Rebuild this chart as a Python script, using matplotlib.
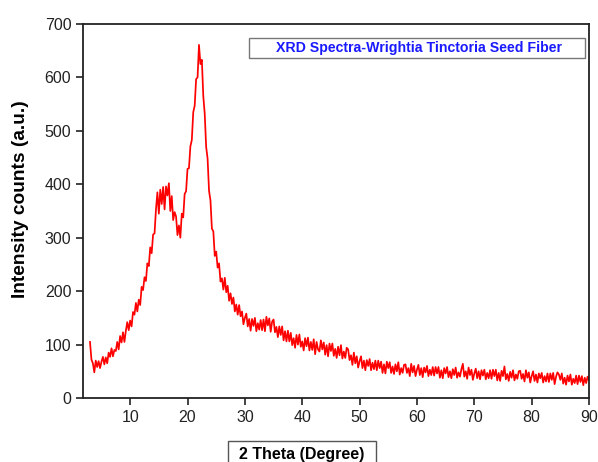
import numpy as np
import matplotlib.pyplot as plt
from matplotlib.patches import Rectangle

plt.rcParams['font.family'] = ['Liberation Sans', 'DejaVu Sans']

# 2 theta grid, 0.25 degree steps from 3 to 90
theta_start, theta_end, theta_step = 3.0, 90.0, 0.25

# intensity counts, one row per 5 degrees
intensity = [
    105, 72, 65, 48, 70, 58, 69, 56, 68, 77, 63, 76, 65, 85, 77, 93, 78, 90, 88, 105,
    91, 116, 104, 123, 105, 126, 142, 127, 145, 134, 161, 156, 178, 162, 184, 174, 208, 202, 226, 219,
    252, 247, 282, 271, 306, 308, 353, 385, 345, 390, 363, 395, 353, 396, 379, 402, 350, 378, 333, 348,
    340, 305, 323, 300, 345, 338, 382, 387, 429, 430, 471, 483, 535, 547, 597, 600, 661, 625, 633, 565,
    532, 470, 448, 388, 370, 317, 312, 266, 274, 244, 252, 218, 224, 203, 225, 198, 210, 182, 196, 176,
    188, 162, 175, 156, 174, 153, 162, 138, 150, 158, 134, 148, 126, 148, 135, 150, 125, 140, 128, 146,
    127, 147, 125, 152, 136, 149, 124, 143, 147, 123, 133, 114, 134, 118, 134, 108, 125, 106, 126, 106,
    122, 99, 112, 94, 118, 100, 119, 96, 106, 89, 112, 97, 113, 89, 105, 90, 110, 82, 105, 91,
    87, 108, 91, 104, 81, 99, 78, 102, 88, 102, 79, 92, 75, 96, 80, 99, 74, 87, 75, 94,
    91, 71, 80, 62, 85, 65, 78, 57, 69, 78, 56, 70, 52, 71, 60, 73, 52, 66, 54, 70,
    52, 70, 56, 68, 47, 63, 46, 68, 56, 67, 47, 59, 45, 63, 50, 67, 44, 56, 47, 62,
    63, 47, 56, 41, 64, 48, 60, 41, 53, 62, 43, 56, 39, 57, 48, 60, 41, 53, 43, 58,
    42, 58, 46, 58, 38, 52, 37, 56, 46, 58, 39, 50, 37, 54, 43, 57, 38, 48, 40, 54,
    64, 40, 50, 36, 57, 43, 53, 34, 46, 55, 37, 50, 35, 52, 42, 53, 35, 47, 37, 52,
    36, 53, 41, 53, 33, 47, 32, 51, 41, 59, 35, 45, 32, 49, 38, 52, 33, 44, 36, 50,
    51, 36, 45, 31, 52, 38, 48, 29, 41, 50, 32, 44, 29, 46, 37, 47, 29, 41, 31, 46,
    30, 46, 34, 47, 26, 40, 48, 44, 34, 46, 27, 38, 25, 42, 31, 44, 25, 36, 28, 42,
    26, 42, 30, 41, 24, 38, 28, 40, 33,
]
two_theta = np.arange(theta_start, theta_end + theta_step / 2, theta_step)

title = 'XRD Spectra-Wrightia Tinctoria Seed Fiber'
xlabel = '2 Theta (Degree)'
ylabel = 'Intensity counts (a.u.)'

fig = plt.figure(figsize=(5.98, 4.62), dpi=100)
ax = fig.add_axes([0.139, 0.1385, 0.846, 0.8095])

ax.plot(two_theta, intensity, '-', color='#ff0000', linewidth=1.25)

ax.set_xlim(1.8, 90)
ax.set_ylim(0, 700)
ax.set_xticks(np.arange(10, 91, 10))
ax.set_yticks(np.arange(0, 701, 100))
ax.tick_params(direction='out', length=5, width=1.2, labelsize=11.5, colors='#222222')
for s in ax.spines.values():
    s.set_linewidth(1.3)
    s.set_color('#222222')

# y label
fig.text(0.034, 0.569, ylabel, rotation=90, ha='center', va='center',
         fontsize=13.8, fontweight='bold')

# x label in a box running off the bottom edge
fig.patches.append(Rectangle((0.381, -0.05), 0.248, 0.0955, transform=fig.transFigure,
                             fc='white', ec='#555555', lw=1))
fig.text(0.505, 0.033, xlabel, ha='center', va='top', fontsize=11.5, fontweight='bold')

# title box
ax.add_patch(Rectangle((0.328, 0.909), 0.664, 0.0536, transform=ax.transAxes,
                       fc='white', ec='#777777', lw=1, zorder=3))
ax.text(0.664, 0.936, title, transform=ax.transAxes, ha='center', va='center',
        fontsize=10.2, fontweight='bold', color='#1a1aff', zorder=4)

fig.savefig('out.png', dpi=100)
